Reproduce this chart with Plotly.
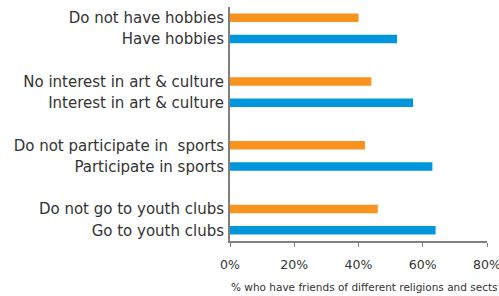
import plotly.graph_objects as go

neg_labels = ["Do not have hobbies", "No interest in art & culture",
              "Do not participate in\u00a0 sports", "Do not go to youth clubs"]
neg_values = [40, 44, 42, 46]
pos_labels = ["Have hobbies", "Interest in art & culture",
              "Participate in sports", "Go to youth clubs"]
pos_values = [52, 57, 63, 64]
x_ticks = [0, 20, 40, 60, 80]
x_title = "% who have friends of different religions and sects"

ORANGE = "#F7931E"
BLUE = "#0096DB"
GREY = "#808080"
TEXT = "#333333"
FONT = "DejaVu Sans"

# category order with blank spacer slots between the pairs
order = []
for i, (n, p) in enumerate(zip(neg_labels, pos_labels)):
    order += [n, p]
    if i < len(neg_labels) - 1:
        order.append(" " * (i + 1))

fig = go.Figure()
fig.add_trace(go.Bar(x=neg_values, y=neg_labels, orientation="h",
                     marker=dict(color=ORANGE, line=dict(width=0)), width=0.4))
fig.add_trace(go.Bar(x=pos_values, y=pos_labels, orientation="h",
                     marker=dict(color=BLUE, line=dict(width=0)), width=0.4))
# invisible spacer trace so the blank categories exist
fig.add_trace(go.Bar(x=[0] * 3, y=[" ", "  ", "   "], orientation="h",
                     marker=dict(color="rgba(0,0,0,0)"), hoverinfo="skip"))

fig.update_layout(
    width=499, height=296,
    margin=dict(l=230, r=12, t=7, b=55),
    paper_bgcolor="white", plot_bgcolor="white",
    showlegend=False, barmode="overlay", hovermode=False,
    font=dict(family=FONT, color=TEXT),
)
fig.update_xaxes(
    range=[0, 80], tickvals=x_ticks, ticktext=[f"{v}%" for v in x_ticks],
    showgrid=False, zeroline=False, automargin=False, fixedrange=True,
    showline=True, linecolor=GREY, linewidth=2,
    ticks="outside", ticklen=4, tickcolor=GREY, tickwidth=1,
    tickfont=dict(size=12.5, color=TEXT), ticklabeloverflow="allow",
    ticklabelstandoff=7,
)
fig.update_yaxes(
    type="category", categoryorder="array", categoryarray=order,
    range=[len(order) - 0.5, -0.5], automargin=False, fixedrange=True,
    showgrid=False, zeroline=False,
    showline=True, linecolor=GREY, linewidth=2,
    ticks="outside", ticklen=1, tickcolor="rgba(0,0,0,0)",
    tickfont=dict(size=15, color=TEXT),
)
fig.add_annotation(
    text=x_title, xref="paper", yref="paper", x=0.525, y=-0.197,
    xanchor="center", yanchor="middle", showarrow=False,
    font=dict(size=10.5, color=TEXT),
)

fig.write_html("out.html", config={"displayModeBar": False, "staticPlot": True},
               post_script="document.body.style.margin='0';document.body.style.overflow='hidden';")
